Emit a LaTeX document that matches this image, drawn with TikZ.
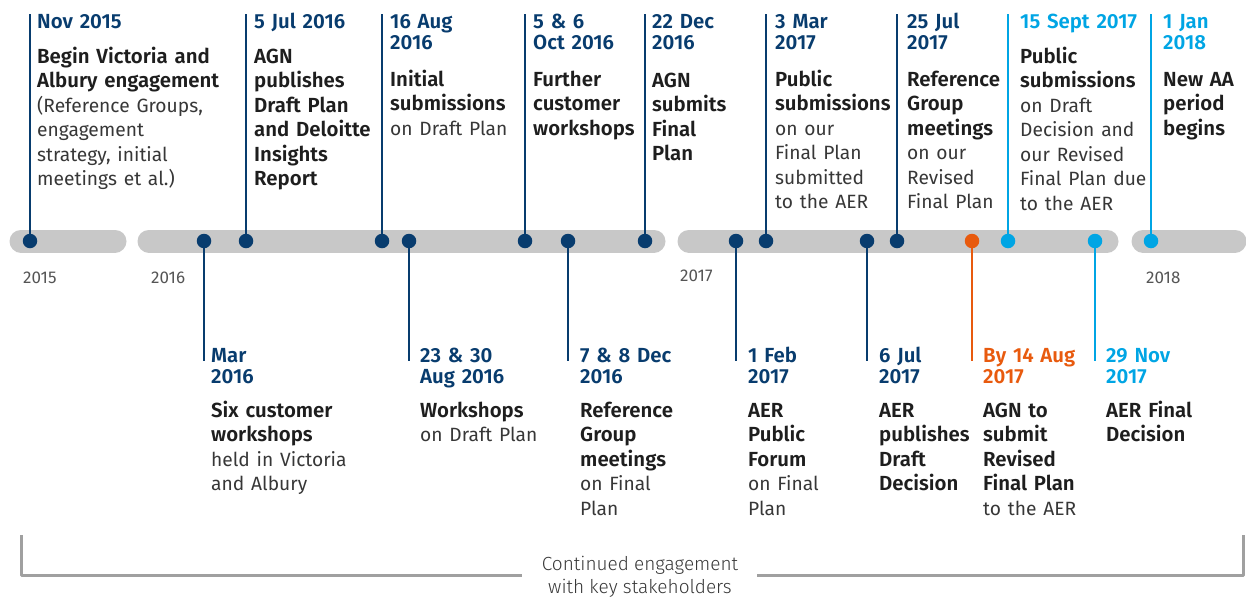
\documentclass[tikz,border=0pt]{standalone}
\usepackage{fontspec}
\setmainfont{Fira Sans}[BoldFont={Fira Sans SemiBold}]
\newfontfamily\lightfont{Fira Sans Light}
\definecolor{agnnavy}{RGB}{8,60,110}
\definecolor{agnsky}{RGB}{0,165,228}
\definecolor{agnorange}{RGB}{232,90,14}
\definecolor{bargray}{RGB}{200,200,200}
\definecolor{inkdark}{RGB}{30,30,30}
\definecolor{inkgray}{RGB}{55,55,55}
\definecolor{yeargray}{RGB}{85,85,85}
\definecolor{bracegray}{RGB}{160,160,160}
% plain (non bold) tail of an event text
\newcommand{\regpart}{\mdseries\fontsize{19.2}{24.5}\selectfont\color{inkgray}}
\begin{document}
\begin{tikzpicture}[x=1pt,y=-1pt,line join=round,
	bar/.style={line width=23pt,line cap=round,bargray},
	dot/.style={circle,fill=#1,inner sep=0pt,minimum size=14.5pt},
	stem/.style={line width=2.4pt,#1},
	% text width -> the base anchor is the first line
	firstline/.style={anchor=base west,inner sep=0pt,text width=230pt,align=left},
	datelbl/.style={firstline,text=#1,font=\fontsize{20.4}{21}\selectfont\bfseries},
	bodylbl/.style={firstline,text=inkdark,font=\fontsize{20.4}{24.5}\selectfont\bfseries},
	yearlbl/.style={anchor=base west,inner sep=0pt,text=yeargray,font=\fontsize{17}{20}\selectfont}]
	\useasboundingbox (0,0) rectangle (1246,597);
	\coordinate (top) at (0,14);
	\coordinate (bot) at (0,361);
	% year bars
	\draw[bar] (21,241) -- (115,241);
	\draw[bar] (149,241) -- (654,241);
	\draw[bar] (689,241) -- (1107,241);
	\draw[bar] (1143,241) -- (1235,241);
	\node[yearlbl] (y15) at (23,283) {2015};
	\node[yearlbl] (y16) at (151,283) {2016};
	\node[yearlbl] (y17) at (680,281) {2017};
	\node[yearlbl] (y18) at (1146,283) {2018};
	% events above the bar
	\node[dot=agnnavy] (e1) at (30,241) {};
	\node[datelbl=agnnavy] (t1) at (37,28) {Nov 2015};
	\node[bodylbl] (b1) at (37,63) {Begin Victoria and\\Albury engagement\\\regpart(Reference Groups,\\engagement\\strategy, initial\\meetings et al.)};
	\draw[stem=agnnavy] (e1.north) -- (e1 |- top);
	\node[dot=agnnavy] (e2) at (246,241) {};
	\node[datelbl=agnnavy] (t2) at (254,28) {5 Jul 2016};
	\node[bodylbl] (b2) at (254,63) {AGN\\publishes\\Draft Plan\\and Deloitte\\Insights\\Report};
	\draw[stem=agnnavy] (e2.north) -- (e2 |- top);
	\node[dot=agnnavy] (e3) at (382,241) {};
	\node[datelbl=agnnavy] (t3) at (390,28) {16 Aug\\2016};
	\node[bodylbl] (b3) at (390,86) {Initial\\submissions\\\regpart on Draft Plan};
	\draw[stem=agnnavy] (e3.north) -- (e3 |- top);
	\node[dot=agnnavy] (e4) at (525,241) {};
	\node[datelbl=agnnavy] (t4) at (533,28) {5 \& 6\\Oct 2016};
	\node[bodylbl] (b4) at (533,86) {Further\\customer\\workshops};
	\draw[stem=agnnavy] (e4.north) -- (e4 |- top);
	\node[dot=agnnavy] (e5) at (645,241) {};
	\node[datelbl=agnnavy] (t5) at (652,28) {22 Dec\\2016};
	\node[bodylbl] (b5) at (652,87) {AGN\\submits\\Final\\Plan};
	\draw[stem=agnnavy] (e5.north) -- (e5 |- top);
	\node[dot=agnnavy] (e6) at (766,241) {};
	\node[datelbl=agnnavy] (t6) at (775,28) {3 Mar\\2017};
	\node[bodylbl] (b6) at (775,86) {Public\\submissions\\\regpart on our\\Final Plan\\submitted\\to the AER};
	\draw[stem=agnnavy] (e6.north) -- (e6 |- top);
	\node[dot=agnnavy] (e7) at (897,241) {};
	\node[datelbl=agnnavy] (t7) at (907,28) {25 Jul\\2017};
	\node[bodylbl] (b7) at (907,86) {Reference\\Group\\meetings\\\regpart on our\\Revised\\Final Plan};
	\draw[stem=agnnavy] (e7.north) -- (e7 |- top);
	\node[dot=agnsky] (e8) at (1008,241) {};
	\node[datelbl=agnsky] (t8) at (1020,28) {15 Sept 2017};
	\node[bodylbl] (b8) at (1020,63) {Public\\submissions\\\regpart on Draft\\Decision and\\our Revised\\Final Plan due\\to the AER};
	\draw[stem=agnsky] (e8.north) -- (e8 |- top);
	\node[dot=agnsky] (e9) at (1151,241) {};
	\node[datelbl=agnsky] (t9) at (1163,28) {1 Jan\\2018};
	\node[bodylbl] (b9) at (1163,86) {New AA\\period\\begins};
	\draw[stem=agnsky] (e9.north) -- (e9 |- top);
	% events below the bar
	\node[dot=agnnavy] (e10) at (204,241) {};
	\node[datelbl=agnnavy] (t10) at (211,362) {Mar\\2016};
	\node[bodylbl] (b10) at (211,417) {Six customer\\workshops\\\regpart held in Victoria\\and Albury};
	\draw[stem=agnnavy] (e10.south) -- (e10 |- bot);
	\node[dot=agnnavy] (e11) at (409,241) {};
	\node[datelbl=agnnavy] (t11) at (420,362) {23 \& 30\\Aug 2016};
	\node[bodylbl] (b11) at (420,417) {Workshops\\\regpart on Draft Plan};
	\draw[stem=agnnavy] (e11.south) -- (e11 |- bot);
	\node[dot=agnnavy] (e12) at (568,241) {};
	\node[datelbl=agnnavy] (t12) at (580,362) {7 \& 8 Dec\\2016};
	\node[bodylbl] (b12) at (580,417) {Reference\\Group\\meetings\\\regpart on Final\\Plan};
	\draw[stem=agnnavy] (e12.south) -- (e12 |- bot);
	\node[dot=agnnavy] (e13) at (736,241) {};
	\node[datelbl=agnnavy] (t13) at (748,362) {1 Feb\\2017};
	\node[bodylbl] (b13) at (748,417) {AER\\Public\\Forum\\\regpart on Final\\Plan};
	\draw[stem=agnnavy] (e13.south) -- (e13 |- bot);
	\node[dot=agnnavy] (e14) at (867,241) {};
	\node[datelbl=agnnavy] (t14) at (879,362) {6 Jul\\2017};
	\node[bodylbl] (b14) at (879,417) {AER\\publishes\\Draft\\Decision};
	\draw[stem=agnnavy] (e14.south) -- (e14 |- bot);
	\node[dot=agnorange] (e15) at (972,241) {};
	\node[datelbl=agnorange] (t15) at (983,362) {By 14 Aug\\2017};
	\node[bodylbl] (b15) at (983,417) {AGN to\\submit\\Revised\\Final Plan\\\regpart to the AER};
	\draw[stem=agnorange] (e15.south) -- (e15 |- bot);
	\node[dot=agnsky] (e16) at (1095,241) {};
	\node[datelbl=agnsky] (t16) at (1106,362) {29 Nov\\2017};
	\node[bodylbl] (b16) at (1106,417) {AER Final\\Decision};
	\draw[stem=agnsky] (e16.south) -- (e16 |- bot);
	% engagement bracket
	\node[anchor=base,inner sep=0pt,align=center,text=inkgray,font=\fontsize{19}{23}\lightfont] (cont) at (640,593) {Continued engagement\\with key stakeholders};
	\draw[line width=3pt,bracegray] (21,535) |- (522,575);
	\draw[line width=3pt,bracegray] (757,575) -| (1243,535);
\end{tikzpicture}
\end{document}
